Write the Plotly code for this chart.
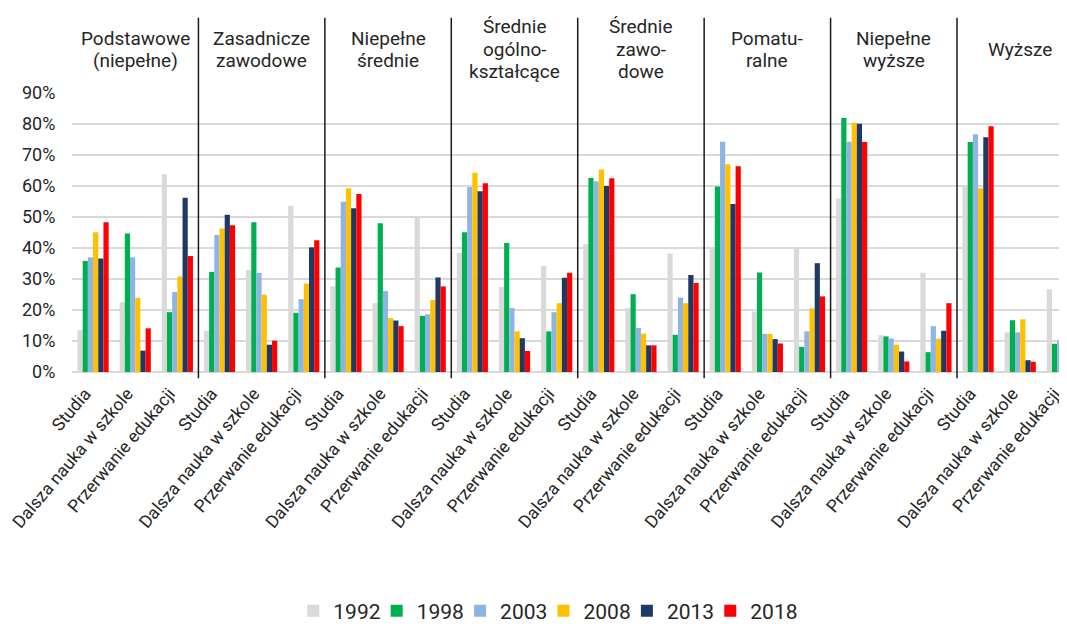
import plotly.graph_objects as go

groups = [["Podstawowe", "(niepełne)"], ["Zasadnicze", "zawodowe"], ["Niepełne", "średnie"],
          ["Średnie", "ogólno-", "kształcące"], ["Średnie", "zawo-", "dowe"], ["Pomatu-", "ralne"],
          ["Niepełne", "wyższe"], ["Wyższe"]]
subcats = ["Studia", "Dalsza nauka w szkole", "Przerwanie edukacji"]
years = ["1992", "1998", "2003", "2008", "2013", "2018"]

y1992 = [13.5, 22.5, 63.8, 13.3, 32.9, 53.6, 27.7, 22.2, 49.9, 38.4, 27.4, 34.2,
         41.2, 20.6, 38.2, 40.2, 19.5, 39.9, 56.0, 11.9, 32.0, 60.0, 12.8, 26.7]
y1998 = [35.8, 44.7, 19.3, 32.3, 48.3, 19.1, 33.7, 48.0, 18.1, 45.1, 41.6, 13.1,
         62.6, 25.1, 12.0, 59.8, 32.1, 8.1, 81.9, 11.5, 6.4, 74.2, 16.7, 9.1]
y2003 = [37.0, 37.0, 25.8, 44.2, 32.0, 23.5, 54.9, 26.1, 18.6, 59.7, 20.6, 19.3,
         61.5, 14.2, 24.0, 74.3, 12.3, 13.1, 74.3, 10.8, 14.8, 76.7, 12.8, 10.2]
y2008 = [45.1, 23.9, 30.8, 46.3, 24.9, 28.5, 59.3, 17.4, 23.2, 64.3, 13.1, 22.2,
         65.3, 12.4, 22.2, 67.0, 12.3, 20.5, 80.4, 8.8, 10.7, 59.3, 17.0, 23.5]
y2013 = [36.6, 6.9, 56.2, 50.7, 8.8, 40.2, 52.8, 16.6, 30.5, 58.3, 10.9, 30.4,
         60.0, 8.6, 31.3, 54.2, 10.6, 35.1, 80.1, 6.6, 13.3, 75.7, 3.8, None]
y2018 = [48.3, 14.1, 37.4, 47.3, 10.1, 42.5, 57.4, 14.8, 27.6, 60.9, 6.8, 32.0,
         62.5, 8.6, 28.7, 66.4, 9.2, 24.4, 74.2, 3.4, 22.2, 79.3, 3.3, None]

colors = ["#D9D9D9", "#00B050", "#8EB4E3", "#FFC000", "#1F3864", "#FF0000"]
series = [y1992, y1998, y2003, y2008, y2013, y2018]

cats = [s for _ in groups for s in subcats]
xpos = list(range(len(cats)))
FONT = "Roboto, Arial, sans-serif"
TXT = "#262626"
PLOT_W = 995.0
PLOT_H = 279.0

fig = go.Figure()
legend_layouts = {}
for i, (name, vals, col) in enumerate(zip(years, series, colors)):
    lg = "legend" if i == 0 else f"legend{i + 1}"
    fig.add_trace(go.Bar(x=xpos, y=vals, name=name, legend=lg, showlegend=True,
                         marker=dict(color=col, line=dict(width=0))))
    legend_layouts[lg] = dict(orientation="h", x=0.2224 + i * 83.4 / PLOT_W, xanchor="left",
                              y=-0.857, yanchor="middle", bgcolor="rgba(0,0,0,0)",
                              font=dict(family=FONT, size=21, color=TXT), visible=True,
                              itemclick=False, itemdoubleclick=False, itemwidth=30)

n_sub = len(subcats)
shapes = []
for g in range(1, len(groups)):
    xs = g * n_sub - 0.5
    shapes.append(dict(type="line", xref="x", yref="paper", x0=xs, x1=xs, y0=-0.022, y1=1.27,
                       line=dict(color="#1a1a1a", width=1.5)))
annotations = []
line_step = 22.5 / PLOT_H
for g, lines in enumerate(groups):
    n = len(lines)
    for i, txt in enumerate(lines):
        yy = 1.156 + ((n - 1) / 2 - i) * line_step
        annotations.append(dict(x=g * n_sub + 1, y=yy, xref="x", yref="paper", text=txt,
                                showarrow=False, xanchor="center", yanchor="middle",
                                font=dict(family=FONT, size=19, color=TXT)))

# page body has an 8px default margin: figure sized to fill the rest of the window
fig.update_layout(
    width=1059, height=616,
    margin=dict(l=64, r=0, t=85, b=252, autoexpand=False),
    paper_bgcolor="white", plot_bgcolor="white", showlegend=True,
    barmode="group", bargap=0.26, bargroupgap=0,
    font=dict(family=FONT, size=17, color=TXT),
    shapes=shapes, annotations=annotations,
    xaxis=dict(range=[-0.5, 23.11], tickmode="array", tickvals=xpos, ticktext=cats,
               tickangle=-50, showgrid=False, zeroline=False, showline=False,
               ticks="", ticklabelstandoff=7, ticklabelshift=-8, ticklabeloverflow="allow",
               tickfont=dict(family=FONT, size=17.5, color=TXT), automargin=False),
    yaxis=dict(range=[0, 90], dtick=10, ticksuffix="%", showgrid=True, gridcolor="#D9D9D9",
               gridwidth=2, zeroline=True, zerolinecolor="#D9D9D9", zerolinewidth=2,
               showline=False, ticks="outside", ticklen=12, tickcolor="rgba(0,0,0,0)",
               tickfont=dict(family=FONT, size=18, color=TXT), automargin=False),
    **legend_layouts,
)

fig.write_html("out.html")
